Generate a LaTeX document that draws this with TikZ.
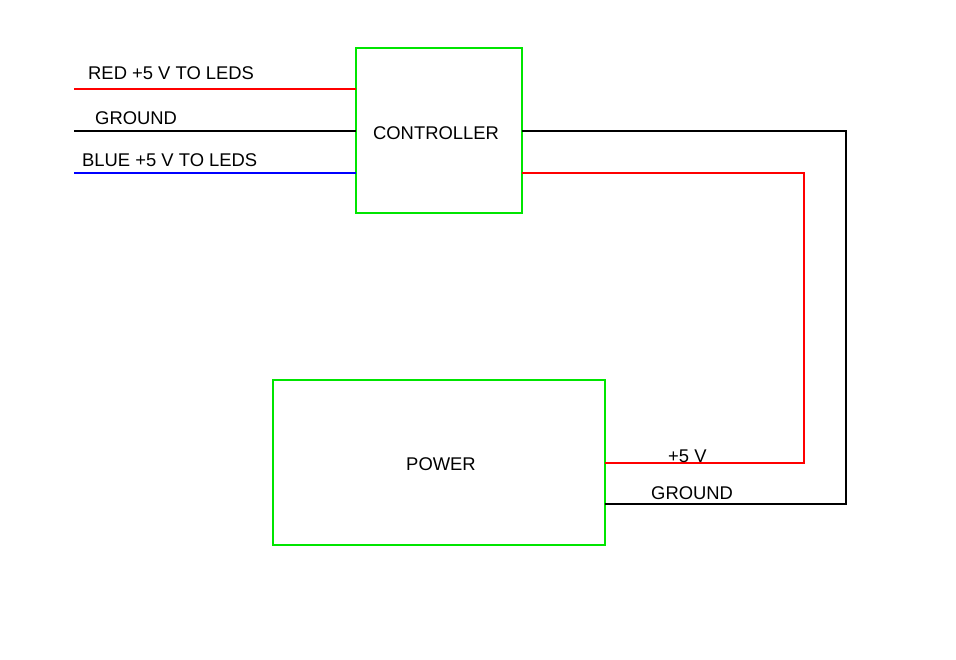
\documentclass[tikz,border=0pt]{standalone}
\usepackage{fontspec}
\setmainfont{Liberation Sans}
\begin{document}
\begin{tikzpicture}[x=1pt,y=-1pt,
  box/.style={draw=green!90!black, line width=2pt, fill=none, rectangle, inner sep=0pt, outer sep=0pt},
  wire/.style={line width=2.2pt},
  txt/.style={font=\fontsize{18.4}{20}\selectfont, inner sep=0pt},
  lbl/.style={txt, anchor=west}]
\useasboundingbox (0,0) rectangle (956,660);
\node[box, minimum width=166pt, minimum height=165pt] (ctrlbox) at (439,130.5) {};
\node[txt] (ctrl) at (436,133) {CONTROLLER};
\node[box, minimum width=332pt, minimum height=165pt] (pwrbox) at (439,462.5) {};
\node[txt] (pwr) at (441,464) {POWER};
\coordinate (cR) at (356,89);
\coordinate (cG) at (356,131);
\coordinate (cB) at (356,173);
\coordinate (cOG) at (522,131);
\coordinate (cOR) at (522,173);
\coordinate (pR) at (605,463);
\coordinate (pG) at (605,504);
\coordinate (lR) at (74,89);
\coordinate (lG) at (74,131);
\coordinate (lB) at (74,173);
\draw[wire, red] (lR) -- (cR);
\draw[wire, black] (lG) -- (cG);
\draw[wire, blue] (lB) -- (cB);
\draw[wire, black] (cOG) -- (846,131) -- (846,504) -- (pG);
\draw[wire, red] (cOR) -- (804,173) -- (804,463) -- (pR);
\node[lbl] (t1) at (88,73) {RED +5 V TO LEDS};
\node[lbl] (t2) at (95,118) {GROUND};
\node[lbl] (t3) at (82,160) {BLUE +5 V TO LEDS};
\node[lbl] (t4) at (668,456) {+5 V};
\node[lbl] (t5) at (651,493) {GROUND};
\end{tikzpicture}
\end{document}
